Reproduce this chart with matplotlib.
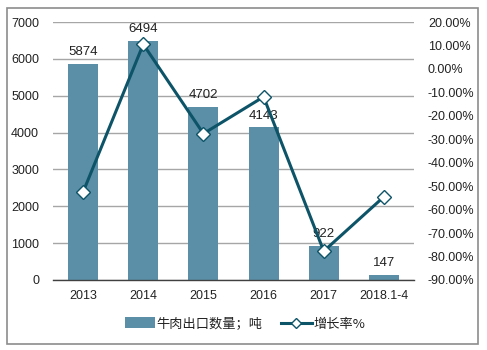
import matplotlib
matplotlib.use("Agg")
import matplotlib.pyplot as plt
from matplotlib.patches import Rectangle
from matplotlib.ticker import FuncFormatter

plt.rcParams['font.family'] = ['Liberation Sans', 'Noto Sans CJK SC', 'DejaVu Sans']

categories = ["2013", "2014", "2015", "2016", "2017", "2018.1-4"]
export_volume = [5874, 6494, 4702, 4143, 922, 147]
growth_rate = [-52.5, 10.5, -27.6, -11.9, -77.7, -54.5]

bar_color = "#5B8FA7"
line_color = "#0D5468"
text_color = "#222222"

fig = plt.figure(figsize=(4.87, 3.5), dpi=100)
fig.patches.append(Rectangle((7 / 487, 6 / 350), 471 / 487, 336 / 350,
                             transform=fig.transFigure, fill=False,
                             edgecolor="#8C8C8C", linewidth=1.2))

ax = fig.add_axes([53 / 487, 70 / 350, 361 / 487, 258 / 350])
x = list(range(len(categories)))
bars = ax.bar(x, export_volume, width=0.5, color=bar_color, zorder=2)
ax.set_xlim(-0.5, len(categories) - 0.5)
ax.set_ylim(0, 7000)
ax.set_yticks(range(0, 7001, 1000))
ax.set_xticks(x)
ax.set_xticklabels(categories)
ax.yaxis.grid(True, color="#A6A6A6", linewidth=1.0, zorder=0)
ax.set_axisbelow(True)
for s in ["top", "right", "left"]:
    ax.spines[s].set_visible(False)
ax.spines["bottom"].set_color("#404040")
ax.spines["bottom"].set_linewidth(1.0)
ax.tick_params(axis="both", length=0, labelsize=9, colors=text_color)
ax.tick_params(axis="y", pad=10)
ax.tick_params(axis="x", pad=7)

for xi, v in zip(x, export_volume):
    ax.annotate(f"{v}", (xi, v), xytext=(0, 4), textcoords="offset points",
                ha="center", va="bottom", fontsize=9.5, color=text_color, zorder=5)

ax2 = ax.twinx()
ax2.set_ylim(-90, 20)
ax2.set_yticks(range(-90, 21, 10))
ax2.yaxis.set_major_formatter(FuncFormatter(lambda v, p: f"{v:.2f}%"))
ax2.plot(x, growth_rate, color=line_color, linewidth=2.2, marker="D",
         markersize=7, markerfacecolor="white", markeredgecolor=line_color,
         markeredgewidth=1.0, zorder=4)
for s in ["top", "right", "left", "bottom"]:
    ax2.spines[s].set_visible(False)
ax2.tick_params(axis="y", length=0, labelsize=9, colors=text_color, pad=10)

handles = [bars, ax2.lines[0]]
labels = ["牛肉出口数量；吨", "增长率%"]
leg = fig.legend(handles, labels, loc="center", bbox_to_anchor=(245 / 487, 1 - 324 / 350),
                 ncol=2, frameon=False, handlelength=2.3, handleheight=0.9,
                 handletextpad=0.15, columnspacing=1.4, markerscale=0.75,
                 prop={"family": ["Noto Sans CJK SC", "DejaVu Sans"], "size": 9.5})
for t in leg.get_texts():
    t.set_color(text_color)

fig.savefig("out.png", dpi=100)
